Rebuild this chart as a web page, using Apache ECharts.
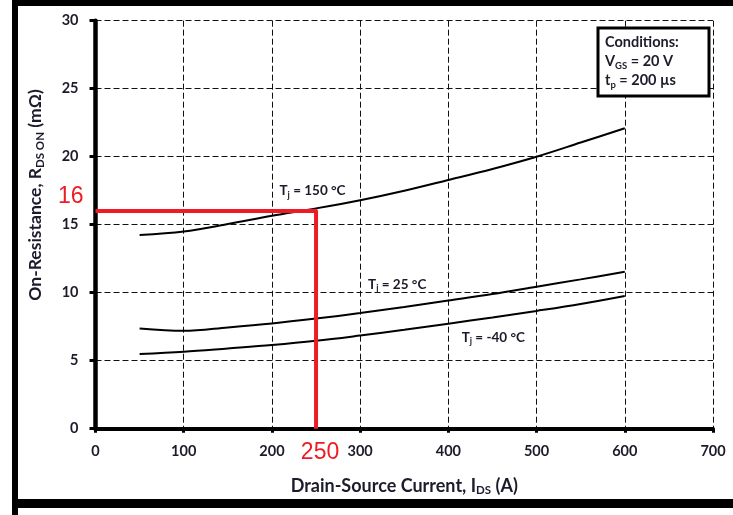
<!DOCTYPE html>
<html>
<head>
<meta charset="utf-8">
<script src="https://cdn.jsdelivr.net/npm/echarts@6/dist/echarts.min.js"></script>
<style>
  html, body { margin: 0; padding: 0; background: #fff; }
  #chart { width: 733px; height: 515px; }
</style>
</head>
<body>
<div id="chart"></div>
<script>
// Drain-source current (A) at which the curves are sampled
const current = [50, 100, 150, 200, 250, 300, 350, 400, 450, 500, 550, 600];
// On-resistance (mΩ) per junction temperature
const rds150 = [14.24, 14.5, 15.05, 15.66, 16.2, 16.8, 17.5, 18.29, 19.1, 20.0, 21.04, 22.09];
const rds25 = [7.37, 7.2, 7.45, 7.74, 8.1, 8.5, 8.95, 9.42, 9.9, 10.44, 10.98, 11.54];
const rdsMinus40 = [5.49, 5.66, 5.9, 6.15, 6.46, 6.85, 7.27, 7.72, 8.18, 8.66, 9.17, 9.76];
const markerCurrent = 250;
const markerResistance = 16;
// Curve label anchors [current, resistance]
const label150 = [246, 17.5];
const label25 = [342, 10.6];
const labelMinus40 = [451, 6.7];

const TXT = '#1b1b2b';
const FONT = 'Lato, "Open Sans", sans-serif';

const pairs = (ys) => current.map((x, i) => [x, ys[i]]);

const tjRich = {
  m: { fontFamily: FONT, fontWeight: 'bold', fontSize: 13.5, color: TXT, lineHeight: 17 },
  s: { fontFamily: FONT, fontWeight: 'bold', fontSize: 9, color: TXT, lineHeight: 17, padding: [8, 0, 0, 0] }
};

function curve(name, ys, at, temp) {
  return {
    name, type: 'line', data: pairs(ys), smooth: 0.35, symbol: 'none',
    lineStyle: { color: '#000', width: 2 },
    silent: true,
    markPoint: {
      symbol: 'circle', symbolSize: 0, silent: true,
      data: [{ coord: at }],
      label: {
        show: true, position: 'inside',
        formatter: '{m|T}{s|j}{m| = ' + temp + ' °C}',
        rich: tjRich
      }
    }
  };
}

const chart = echarts.init(document.getElementById('chart'));

const axisLabel = { color: TXT, fontFamily: FONT, fontWeight: 'bold', fontSize: 14.5 };
const splitLine = { show: true, lineStyle: { color: '#111', width: 1, type: [6, 3] } };

const condRich = {
  m: { fontFamily: FONT, fontWeight: 'bold', fontSize: 14.5, fill: TXT, lineHeight: 18 },
  s: { fontFamily: FONT, fontWeight: 'bold', fontSize: 9.5, fill: TXT, lineHeight: 18, padding: [8, 0, 0, 0] }
};

chart.setOption({
  animation: false,
  grid: { left: 95.5, right: 20, top: 20.7, bottom: 86.3 },
  xAxis: {
    type: 'value', min: 0, max: 700, interval: 100,
    axisLine: { show: true, onZero: false, lineStyle: { color: '#000', width: 4 } },
    axisTick: { show: true, length: 4, lineStyle: { color: '#000', width: 3 } },
    axisLabel: Object.assign({ margin: 15 }, axisLabel),
    splitLine,
    name: '{m|Drain-Source Current, I}{s|DS}{m| (A)}',
    nameLocation: 'middle', nameGap: 46,
    nameTextStyle: {
      rich: {
        m: { fontFamily: FONT, fontWeight: 'bold', fontSize: 18, color: TXT, lineHeight: 22 },
        s: { fontFamily: FONT, fontWeight: 'bold', fontSize: 11.5, color: TXT, lineHeight: 22, padding: [9, 0, 0, 0] }
      }
    }
  },
  yAxis: {
    type: 'value', min: 0, max: 30, interval: 5,
    axisLine: { show: true, lineStyle: { color: '#000', width: 4.5 } },
    axisTick: { show: true, length: 6, lineStyle: { color: '#000', width: 3 } },
    axisLabel: Object.assign({ margin: 17 }, axisLabel),
    splitLine
  },
  graphic: [
    // outer frame
    { type: 'line', z: 100, silent: true,
      shape: { x1: 12, y1: 3, x2: 740, y2: 3 },
      style: { stroke: '#000', lineWidth: 6 } },
    { type: 'line', z: 100, silent: true,
      shape: { x1: 15, y1: 0, x2: 15, y2: 520 },
      style: { stroke: '#000', lineWidth: 6 } },
    { type: 'line', z: 100, silent: true,
      shape: { x1: 12, y1: 503.5, x2: 740, y2: 503.5 },
      style: { stroke: '#000', lineWidth: 9 } },
    // y-axis title
    { type: 'text', z: 100, silent: true, x: 35, y: 195, rotation: Math.PI / 2,
      style: {
        text: '{m|On-Resistance, R}{s|DS ON}{m| (mΩ)}',
        align: 'center', verticalAlign: 'middle',
        rich: {
          m: { fontFamily: FONT, fontWeight: 'bold', fontSize: 17.5, fill: TXT, lineHeight: 22 },
          s: { fontFamily: FONT, fontWeight: 'bold', fontSize: 11.5, fill: TXT, lineHeight: 22, padding: [10, 0, 0, 0] }
        }
      } },
    // test conditions box
    { type: 'rect', z: 100, silent: true,
      shape: { x: 598, y: 28, width: 111, height: 68 },
      style: { fill: '#fff', stroke: '#000', lineWidth: 3 } },
    { type: 'text', z: 101, silent: true, x: 605, y: 42,
      style: { text: 'Conditions:', verticalAlign: 'middle', fontFamily: FONT, fontWeight: 'bold', fontSize: 14.5, fill: TXT } },
    { type: 'text', z: 101, silent: true, x: 605, y: 61.5,
      style: { text: '{m|V}{s|GS}{m| = 20 V}', verticalAlign: 'middle', rich: condRich } },
    { type: 'text', z: 101, silent: true, x: 605, y: 80.5,
      style: { text: '{m|t}{s|p}{m| = 200 µs}', verticalAlign: 'middle', rich: condRich } }
  ],
  series: [
    curve('Tj = 150 °C', rds150, label150, '150'),
    curve('Tj = 25 °C', rds25, label25, '25'),
    curve('Tj = -40 °C', rdsMinus40, labelMinus40, '-40'),
    {
      name: 'operating point', type: 'line', symbol: 'none', silent: true, z: 5,
      data: [[0, markerResistance], [markerCurrent, markerResistance], [markerCurrent, 0]],
      lineStyle: { color: '#ed1c24', width: 4, join: 'round' },
      markPoint: {
        symbol: 'circle', symbolSize: 0, silent: true,
        label: { show: true, color: '#ed1c24', fontFamily: '"Liberation Sans", Arial, sans-serif', fontSize: 23 },
        data: [
          { coord: [0, markerResistance], label: { formatter: String(markerResistance), position: 'left', distance: 12, offset: [0, -14] } },
          { coord: [markerCurrent, 0], label: { formatter: String(markerCurrent), position: 'bottom', distance: 12, offset: [4, 0] } }
        ]
      }
    }
  ]
});
</script>
</body>
</html>
